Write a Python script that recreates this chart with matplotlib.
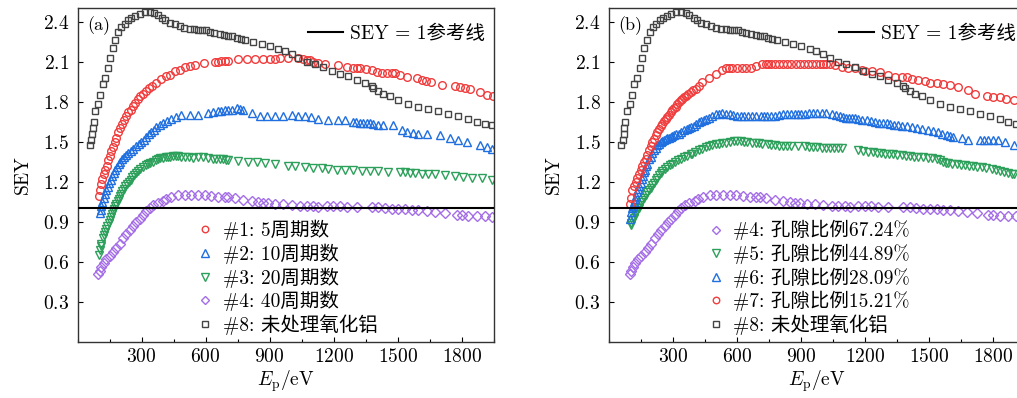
import matplotlib
matplotlib.use("Agg")
import matplotlib.pyplot as plt
from matplotlib.lines import Line2D
from matplotlib.ticker import MultipleLocator

plt.rcParams["font.family"] = ["cmr10", "Noto Sans CJK SC"]
plt.rcParams["mathtext.fontset"] = "cm"
plt.rcParams["axes.unicode_minus"] = False
plt.rcParams["axes.formatter.use_mathtext"] = True

# ---- data ----
# #8 untreated alumina (same in both panels)
e8 = [56, 62, 67, 71, 75, 83, 95, 106, 117, 129, 142, 153, 165, 176, 189, 204, 220, 236, 252, 270,
      290, 314, 337, 358, 376, 395, 411, 431, 454, 478, 500, 525, 545, 564, 584, 603, 620, 640, 665, 687,
      706, 725, 745, 765, 784, 823, 862, 901, 940, 971, 1003, 1034, 1073, 1112, 1151, 1191, 1230, 1269,
      1308, 1347, 1378, 1386, 1409, 1433, 1464, 1503, 1550, 1597, 1644, 1690, 1737, 1784, 1831, 1870,
      1909, 1940]
s8 = [1.478, 1.51, 1.56, 1.60, 1.65, 1.73, 1.78, 1.85, 1.93, 1.98, 2.05, 2.13, 2.20, 2.26, 2.32, 2.36,
      2.38, 2.41, 2.43, 2.44, 2.46, 2.47, 2.47, 2.465, 2.45, 2.43, 2.41, 2.39, 2.38, 2.37, 2.355, 2.345,
      2.345, 2.34, 2.34, 2.335, 2.32, 2.315, 2.305, 2.30, 2.295, 2.29, 2.28, 2.27, 2.26, 2.25, 2.23, 2.22,
      2.195, 2.18, 2.155, 2.125, 2.095, 2.08, 2.06, 2.03, 2.01, 1.99, 1.965, 1.94, 1.92, 1.905, 1.88,
      1.86, 1.84, 1.81, 1.785, 1.76, 1.742, 1.727, 1.709, 1.69, 1.672, 1.647, 1.635, 1.622]

# #4 (40 periods / porosity 67.24%, same in both panels)
e4 = [95, 103, 111, 122, 134, 150, 166, 181, 197, 212, 228, 244, 259, 275, 290, 306, 322, 337, 353,
      376, 400, 415, 439, 470, 501, 533, 564, 595, 626, 658, 689, 706, 737, 776, 816, 847, 870, 894,
      925, 964, 1003, 1042, 1073, 1104, 1128, 1167, 1198, 1229, 1261, 1308, 1378, 1409, 1440, 1472,
      1503, 1534, 1565, 1597, 1636, 1675, 1722, 1776, 1800, 1831, 1870, 1909, 1940]
s4 = [0.508, 0.533, 0.558, 0.588, 0.618, 0.642, 0.675, 0.707, 0.737, 0.775, 0.812, 0.837, 0.867,
      0.899, 0.924, 0.949, 0.979, 1.004, 1.024, 1.041, 1.056, 1.074, 1.086, 1.099, 1.104, 1.104, 1.099,
      1.099, 1.091, 1.086, 1.086, 1.086, 1.081, 1.066, 1.056, 1.049, 1.044, 1.041, 1.036, 1.031, 1.024,
      1.019, 1.019, 1.016, 1.011, 1.016, 1.019, 1.016, 1.011, 1.011, 1.011, 1.011, 1.006, 0.999, 0.999,
      0.994, 0.986, 0.986, 0.981, 0.974, 0.962, 0.949, 0.949, 0.944, 0.942, 0.942, 0.937]

# (a) #1: 5 periods
e1 = [100, 105, 110, 116, 122, 129, 136, 143, 150, 157, 165, 173, 181, 190, 199, 208, 218, 228, 238,
      248, 259, 270, 282, 294, 306, 320, 334, 349, 369, 392, 415, 434, 458, 478, 501, 525, 548, 591,
      642, 658, 673, 689, 706, 753, 792, 831, 870, 901, 925, 948, 987, 1034, 1057, 1073, 1089, 1104,
      1128, 1159, 1221, 1261, 1292, 1308, 1323, 1353, 1378, 1401, 1425, 1448, 1472, 1487, 1511, 1546,
      1589, 1612, 1632, 1654, 1706, 1769, 1792, 1815, 1839, 1886, 1917, 1948]
s1 = [1.09, 1.14, 1.18, 1.22, 1.26, 1.29, 1.32, 1.36, 1.39, 1.43, 1.46, 1.50, 1.53, 1.57, 1.60, 1.63,
      1.66, 1.69, 1.72, 1.74, 1.77, 1.79, 1.82, 1.84, 1.86, 1.88, 1.90, 1.92, 1.94, 1.966, 1.99, 2.0,
      2.03, 2.04, 2.06, 2.07, 2.075, 2.09, 2.10, 2.10, 2.105, 2.105, 2.108, 2.12, 2.12, 2.123, 2.123,
      2.123, 2.123, 2.126, 2.126, 2.126, 2.12, 2.115, 2.11, 2.10, 2.09, 2.083, 2.071, 2.058, 2.051, 2.05,
      2.051, 2.045, 2.035, 2.021, 2.018, 2.018, 2.015, 2.012, 1.996, 1.984, 1.976, 1.96, 1.955, 1.945,
      1.926, 1.916, 1.909, 1.905, 1.896, 1.876, 1.851, 1.841]

# (a) #2: 10 periods
e2 = [103, 107, 111, 116, 122, 128, 134, 140, 147, 154, 161, 168, 176, 184, 192, 200, 208, 217, 227,
      237, 248, 260, 275, 286, 298, 310, 322, 334, 345, 357, 368, 384, 400, 420, 439, 462, 486, 525,
      564, 611, 634, 658, 672, 689, 706, 725, 745, 760, 776, 816, 855, 886, 925, 964, 1003, 1034, 1065,
      1096, 1128, 1175, 1222, 1253, 1292, 1307, 1323, 1339, 1355, 1370, 1386, 1409, 1433, 1480, 1519,
      1542, 1573, 1597, 1636, 1698, 1745, 1784, 1823, 1886, 1917, 1940]
s2 = [0.965, 0.99, 1.02, 1.05, 1.08, 1.11, 1.135, 1.16, 1.19, 1.215, 1.24, 1.265, 1.29, 1.31, 1.33,
      1.35, 1.37, 1.385, 1.40, 1.415, 1.43, 1.445, 1.465, 1.48, 1.497, 1.515, 1.535, 1.555, 1.57, 1.59,
      1.61, 1.625, 1.64, 1.655, 1.67, 1.685, 1.697, 1.70, 1.70, 1.717, 1.725, 1.73, 1.732, 1.735, 1.735,
      1.74, 1.752, 1.745, 1.735, 1.717, 1.69, 1.69, 1.69, 1.69, 1.697, 1.69, 1.69, 1.684, 1.672, 1.665,
      1.665, 1.66, 1.647, 1.645, 1.642, 1.642, 1.642, 1.64, 1.635, 1.627, 1.627, 1.622, 1.585, 1.572,
      1.567, 1.56, 1.56, 1.552, 1.527, 1.51, 1.497, 1.477, 1.46, 1.447]

# (a) #3: 20 periods
e3 = [98, 103, 107, 111, 117, 123, 129, 134, 139, 145, 150, 155, 161, 166, 170, 176, 181, 187, 192,
      198, 204, 210, 217, 224, 232, 240, 248, 256, 264, 273, 283, 294, 306, 318, 330, 341, 353, 365,
      376, 388, 400, 412, 423, 435, 447, 459, 470, 486, 501, 520, 540, 564, 587, 610, 634, 650, 665,
      681, 697, 705, 752, 798, 840, 878, 925, 985, 1018, 1065, 1102, 1144, 1172, 1214, 1252, 1290, 1332,
      1369, 1407, 1453, 1511, 1535, 1558, 1582, 1615, 1643, 1676, 1722, 1769, 1807, 1849, 1896, 1943]
s3 = [0.65, 0.692, 0.715, 0.737, 0.782, 0.80, 0.824, 0.845, 0.867, 0.89, 0.912, 0.935, 0.957, 0.978,
      0.999, 1.018, 1.036, 1.055, 1.074, 1.092, 1.111, 1.13, 1.149, 1.168, 1.186, 1.20, 1.216, 1.232,
      1.248, 1.264, 1.28, 1.295, 1.31, 1.323, 1.336, 1.342, 1.348, 1.36, 1.373, 1.377, 1.38, 1.383,
      1.385, 1.388, 1.39, 1.39, 1.39, 1.388, 1.385, 1.383, 1.38, 1.383, 1.385, 1.38, 1.373, 1.373,
      1.373, 1.37, 1.365, 1.36, 1.355, 1.35, 1.345, 1.34, 1.33, 1.32, 1.315, 1.31, 1.305, 1.30, 1.295,
      1.29, 1.29, 1.285, 1.28, 1.28, 1.28, 1.275, 1.27, 1.27, 1.265, 1.265, 1.26, 1.26, 1.255, 1.25,
      1.24, 1.235, 1.23, 1.225, 1.215]

# (b) #7: porosity 15.21%
e7 = [97, 103, 108, 116, 124, 131, 139, 147, 155, 163, 171, 178, 186, 194, 202, 210, 217, 225, 233,
      241, 248, 256, 264, 272, 280, 288, 295, 303, 311, 319, 327, 335, 342, 350, 358, 370, 381, 393,
      405, 420, 436, 467, 502, 530, 546, 562, 577, 600, 621, 643, 665, 686, 715, 733, 745, 760, 776,
      795, 815, 834, 854, 873, 893, 912, 932, 951, 971, 987, 1003, 1018, 1034, 1057, 1089, 1120, 1152,
      1183, 1198, 1230, 1269, 1308, 1339, 1370, 1394, 1417, 1448, 1480, 1503, 1534, 1565, 1597, 1636,
      1683, 1714, 1769, 1800, 1831, 1862, 1898, 1930]
s7 = [1.035, 1.08, 1.14, 1.17, 1.20, 1.23, 1.26, 1.29, 1.32, 1.35, 1.37, 1.40, 1.435, 1.465, 1.497,
      1.52, 1.547, 1.57, 1.597, 1.615, 1.635, 1.655, 1.672, 1.685, 1.70, 1.72, 1.735, 1.75, 1.76, 1.78,
      1.80, 1.81, 1.82, 1.835, 1.845, 1.86, 1.87, 1.885, 1.895, 1.92, 1.95, 1.98, 2.01, 2.04, 2.05,
      2.05, 2.05, 2.05, 2.05, 2.05, 2.055, 2.065, 2.08, 2.085, 2.084, 2.084, 2.084, 2.084, 2.084, 2.084,
      2.084, 2.084, 2.084, 2.084, 2.084, 2.084, 2.084, 2.084, 2.084, 2.082, 2.079, 2.071, 2.058, 2.053,
      2.051, 2.038, 2.028, 2.033, 2.021, 2.001, 1.988, 1.988, 1.983, 1.971, 1.963, 1.951, 1.938, 1.938,
      1.933, 1.926, 1.908, 1.884, 1.854, 1.839, 1.834, 1.834, 1.821, 1.814, 1.80]

# (b) #6: porosity 28.09%
e6 = [95, 101, 106, 110, 115, 119, 125, 131, 136, 141, 147, 152, 158, 163, 167, 173, 178, 186, 194,
      202, 210, 218, 225, 233, 241, 249, 257, 265, 272, 280, 288, 296, 303, 315, 327, 338, 350, 362,
      374, 385, 397, 408, 420, 432, 444, 455, 467, 483, 499, 515, 530, 547, 564, 582, 600, 616, 632,
      652, 671, 690, 710, 726, 741, 760, 776, 796, 815, 835, 854, 870, 885, 900, 917, 937, 956, 975,
      995, 1018, 1042, 1062, 1081, 1097, 1112, 1124, 1136, 1150, 1167, 1183, 1206, 1225, 1245, 1264,
      1284, 1300, 1316, 1335, 1355, 1374, 1394, 1418, 1441, 1468, 1495, 1518, 1542, 1562, 1581, 1596,
      1612, 1652, 1683, 1738, 1758, 1777, 1800, 1823, 1855, 1898, 1930]
s6 = [0.924, 0.97, 1.00, 1.02, 1.05, 1.07, 1.095, 1.12, 1.145, 1.17, 1.19, 1.22, 1.245, 1.27, 1.285,
      1.32, 1.335, 1.37, 1.385, 1.415, 1.435, 1.455, 1.473, 1.485, 1.497, 1.505, 1.515, 1.52, 1.527,
      1.53, 1.535, 1.54, 1.55, 1.555, 1.56, 1.57, 1.585, 1.595, 1.605, 1.612, 1.62, 1.635, 1.647, 1.655,
      1.665, 1.672, 1.68, 1.692, 1.705, 1.71, 1.715, 1.71, 1.705, 1.697, 1.69, 1.69, 1.69, 1.69, 1.69,
      1.69, 1.69, 1.69, 1.69, 1.69, 1.689, 1.70, 1.709, 1.709, 1.709, 1.709, 1.709, 1.709, 1.709,
      1.712, 1.714, 1.714, 1.714, 1.712, 1.709, 1.70, 1.689, 1.684, 1.679, 1.679, 1.679, 1.675, 1.671,
      1.664, 1.66, 1.652, 1.647, 1.643, 1.64, 1.637, 1.635, 1.628, 1.622, 1.618, 1.615, 1.61, 1.605,
      1.598, 1.59, 1.58, 1.572, 1.56, 1.547, 1.54, 1.535, 1.53, 1.515, 1.51, 1.51, 1.51, 1.51, 1.51,
      1.498, 1.473, 1.465]

# (b) #5: porosity 44.89%
e5 = [100, 104, 108, 114, 120, 126, 131, 137, 144, 149, 155, 163, 171, 178, 186, 194, 202, 210, 217,
      225, 233, 241, 248, 260, 272, 284, 295, 308, 320, 335, 350, 365, 381, 389, 404, 420, 436, 452,
      467, 483, 499, 514, 530, 546, 565, 585, 600, 616, 632, 647, 667, 686, 702, 718, 745, 760, 776,
      796, 815, 835, 854, 885, 917, 937, 956, 975, 995, 1015, 1034, 1053, 1073, 1092, 1167, 1190, 1214,
      1234, 1253, 1272, 1292, 1311, 1331, 1350, 1370, 1390, 1409, 1428, 1448, 1472, 1495, 1515, 1534,
      1550, 1565, 1577, 1589, 1608, 1628, 1648, 1667, 1686, 1706, 1726, 1745, 1768, 1792, 1812, 1831,
      1850, 1870, 1886, 1898, 1930]
s5 = [0.874, 0.89, 0.91, 0.93, 0.95, 0.97, 0.99, 1.005, 1.025, 1.045, 1.06, 1.08, 1.10, 1.12, 1.136,
      1.155, 1.173, 1.19, 1.21, 1.23, 1.248, 1.265, 1.28, 1.295, 1.31, 1.325, 1.336, 1.35, 1.36, 1.372,
      1.385, 1.395, 1.405, 1.41, 1.42, 1.435, 1.448, 1.46, 1.467, 1.473, 1.48, 1.485, 1.488, 1.49,
      1.497, 1.505, 1.505, 1.505, 1.50, 1.497, 1.493, 1.49, 1.488, 1.485, 1.485, 1.478, 1.473, 1.468,
      1.465, 1.465, 1.465, 1.465, 1.465, 1.462, 1.46, 1.457, 1.455, 1.455, 1.455, 1.455, 1.455, 1.452,
      1.435, 1.43, 1.423, 1.42, 1.415, 1.412, 1.41, 1.407, 1.405, 1.40, 1.398, 1.393, 1.39, 1.388,
      1.385, 1.382, 1.38, 1.376, 1.373, 1.36, 1.348, 1.344, 1.34, 1.335, 1.33, 1.326, 1.323, 1.318,
      1.315, 1.312, 1.31, 1.304, 1.298, 1.29, 1.28, 1.272, 1.265, 1.26, 1.255, 1.245]

labels_a = ["#1: 5周期数", "#2: 10周期数", "#3: 20周期数", "#4: 40周期数", "#8: 未处理氧化铝"]
labels_b = ["#4: 孔隙比例67.24%", "#5: 孔隙比例44.89%", "#6: 孔隙比例28.09%",
            "#7: 孔隙比例15.21%", "#8: 未处理氧化铝"]
ref_label = "SEY = 1参考线"

RED, BLUE, GREEN, PURPLE, GRAY = "#f03c3c", "#1f6fe0", "#2ca05a", "#a56ee6", "#444444"
STY = {
    "o": dict(marker="o", ms=5.5, color=RED),
    "^": dict(marker="^", ms=6.3, color=BLUE),
    "v": dict(marker="v", ms=6.3, color=GREEN),
    "D": dict(marker="D", ms=5.0, color=PURPLE),
    "s": dict(marker="s", ms=4.6, color=GRAY),
}


def draw(ax, series, labels, tag, leg_x):
    handles = []
    for (e, s, key), lab in zip(series, labels):
        st = STY[key]
        ax.plot(e, s, ls="none", marker=st["marker"], ms=st["ms"], mfc="none",
                mec=st["color"], mew=1.0)
        handles.append(Line2D([], [], ls="none", marker=st["marker"], ms=st["ms"] * 0.85,
                              mfc="none", mec=st["color"], mew=1.0, label=lab))
    ax.axhline(1.0, color="k", lw=1.5, zorder=5)
    ax.set_xlim(0, 1950)
    ax.set_ylim(0, 2.505)
    ax.xaxis.set_minor_locator(MultipleLocator(150))
    ax.set_xticks([300, 600, 900, 1200, 1500, 1800])
    ax.set_yticks([0.3, 0.6, 0.9, 1.2, 1.5, 1.8, 2.1, 2.4])
    ax.tick_params(which="major", direction="in", length=3.5, width=0.8, labelsize=14, pad=4.3)
    ax.tick_params(axis="y", pad=6.3)
    ax.tick_params(which="minor", direction="in", length=2, width=0.8)
    for sp in ax.spines.values():
        sp.set_linewidth(1.0)
        sp.set_color("#333333")
    ax.set_xlabel(r"$E_{\rm p}$/eV", fontsize=14, labelpad=2)
    ax.set_ylabel("SEY", fontsize=14, labelpad=8)
    ax.text(0.022, 0.945, tag, transform=ax.transAxes, fontsize=13, va="center", ha="left")

    leg = ax.legend(handles=handles, loc="lower left", bbox_to_anchor=(leg_x, 0.02),
                    frameon=False, fontsize=14, handlelength=1.0, handletextpad=0.4,
                    labelspacing=0.17, borderpad=0, borderaxespad=0)
    ax.add_artist(leg)
    ref = Line2D([], [], color="k", lw=1.5, label=ref_label)
    ax.legend(handles=[ref], loc="upper right", bbox_to_anchor=(1, 0.975), frameon=False,
              fontsize=14, handlelength=1.8, handletextpad=0.36, borderpad=0,
              borderaxespad=0.45)


fig = plt.figure(figsize=(10.17, 3.98), dpi=100)
ax_a = fig.add_axes([0.0764, 0.141, 0.409, 0.840])
ax_b = fig.add_axes([0.5991, 0.141, 0.409, 0.840])

draw(ax_a, [(e1, s1, "o"), (e2, s2, "^"), (e3, s3, "v"), (e4, s4, "D"), (e8, s8, "s")],
     labels_a, "(a)", 0.283)
draw(ax_b, [(e4, s4, "D"), (e5, s5, "v"), (e6, s6, "^"), (e7, s7, "o"), (e8, s8, "s")],
     labels_b, "(b)", 0.2325)

fig.savefig("out.png", dpi=100)
